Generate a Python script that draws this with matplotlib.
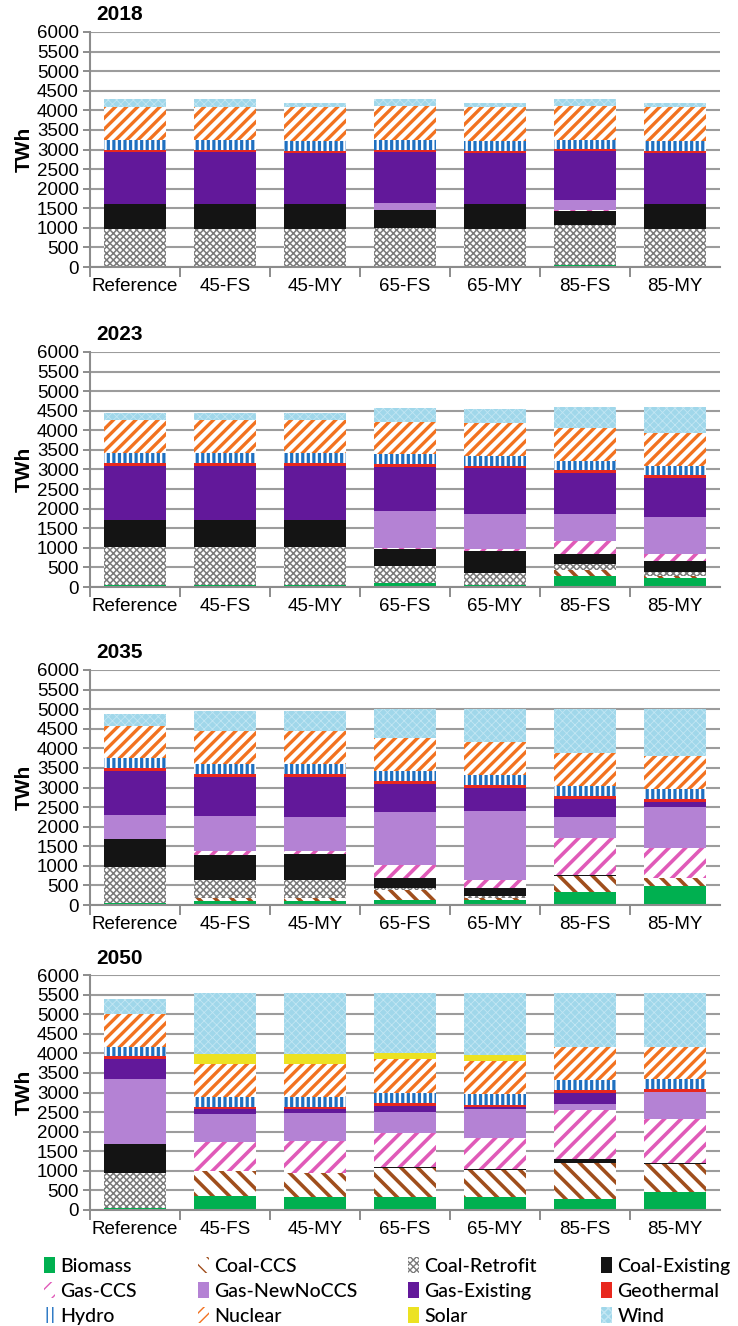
import numpy as np
import matplotlib.pyplot as plt
from matplotlib.patches import Patch

# Escenarios y tecnologias
scenarios = ['Reference', '45-FS', '45-MY', '65-FS', '65-MY', '85-FS', '85-MY']
techs = ['Biomass', 'Coal-CCS', 'Coal-Retrofit', 'Coal-Existing',
         'Gas-CCS', 'Gas-NewNoCCS', 'Gas-Existing', 'Geothermal',
         'Hydro', 'Nuclear', 'Solar', 'Wind']
years = ['2018', '2023', '2035', '2050']

# TWh por tecnologia (filas en el orden de techs), columnas = escenarios
gen_2018 = [
    [0, 0, 0, 0, 0, 45, 0],
    [0, 0, 0, 0, 0, 0, 0],
    [960, 960, 960, 1008, 960, 1025, 960],
    [660, 660, 660, 450, 660, 360, 660],
    [0, 0, 0, 0, 0, 30, 0],
    [0, 0, 0, 170, 0, 260, 0],
    [1310, 1310, 1300, 1320, 1300, 1250, 1300],
    [60, 60, 40, 50, 40, 45, 40],
    [255, 255, 255, 255, 255, 240, 255],
    [845, 845, 865, 845, 865, 845, 865],
    [0, 0, 0, 0, 0, 0, 0],
    [200, 200, 110, 195, 110, 195, 110],
]
gen_2023 = [
    [60, 60, 60, 90, 60, 288, 240],
    [0, 0, 0, 0, 0, 145, 50],
    [960, 960, 960, 450, 310, 152, 85],
    [680, 680, 680, 420, 550, 255, 290],
    [0, 0, 0, 40, 40, 330, 180],
    [0, 0, 0, 940, 910, 705, 950],
    [1400, 1400, 1400, 1130, 1170, 1044, 976],
    [55, 55, 55, 75, 55, 59, 84],
    [255, 255, 255, 240, 250, 237, 238],
    [850, 850, 850, 830, 850, 849, 850],
    [0, 0, 0, 0, 0, 0, 0],
    [195, 195, 195, 350, 340, 525, 650],
]
gen_2035 = [
    [60, 90, 90, 135, 115, 320, 475],
    [0, 90, 90, 260, 60, 410, 215],
    [920, 465, 465, 40, 60, 0, 0],
    [700, 640, 655, 255, 200, 40, 0],
    [0, 85, 85, 320, 195, 935, 765],
    [620, 910, 860, 1375, 1780, 550, 1045],
    [1130, 1000, 1035, 705, 585, 460, 130],
    [75, 70, 70, 75, 60, 70, 75],
    [240, 255, 255, 255, 255, 265, 265],
    [830, 840, 825, 835, 840, 840, 840],
    [0, 0, 0, 0, 0, 0, 0],
    [300, 510, 525, 750, 860, 1115, 1200],
]
gen_2050 = [
    [60, 355, 340, 325, 340, 280, 450],
    [0, 640, 600, 750, 690, 910, 735],
    [875, 0, 0, 0, 0, 0, 0],
    [740, 0, 0, 15, 10, 100, 10],
    [0, 750, 810, 865, 790, 1275, 1130],
    [1665, 700, 720, 535, 740, 135, 680],
    [510, 125, 100, 170, 50, 290, 0],
    [75, 50, 50, 60, 60, 70, 75],
    [240, 270, 270, 280, 270, 255, 255],
    [850, 835, 850, 850, 850, 850, 835],
    [0, 255, 240, 170, 155, 0, 0],
    [385, 1565, 1565, 1525, 1590, 1380, 1375],
]
all_gen = [gen_2018, gen_2023, gen_2035, gen_2050]

# Estilo de cada tecnologia: relleno, color de trama, trama, grosor de trama
styles = {
    'Biomass':       ('#00b050', '#00b050', None, 1.0),
    'Coal-CCS':      ('white', '#a04e1c', '\\\\', 2.6),
    'Coal-Retrofit': ('white', '#7a7a7a', 'xxxxx', 1.1),
    'Coal-Existing': ('#141414', '#141414', None, 1.0),
    'Gas-CCS':       ('white', '#e05ab8', '//', 2.6),
    'Gas-NewNoCCS':  ('#b482d4', '#b482d4', None, 1.0),
    'Gas-Existing':  ('#62189a', '#62189a', None, 1.0),
    'Geothermal':    ('#e8281e', '#e8281e', None, 1.0),
    'Hydro':         ('white', '#1f70c0', '|||', 2.3),
    'Nuclear':       ('white', '#f27220', '///', 2.4),
    'Solar':         ('#ece222', '#ece222', None, 1.0),
    'Wind':          ('#a0d7ea', '#c2e6f3', 'xxxx', 0.6),
}

plt.rcParams['font.family'] = 'sans-serif'
plt.rcParams['font.sans-serif'] = ['Liberation Sans']
plt.rcParams['hatch.linewidth'] = 1.0

fig = plt.figure(figsize=(7.38, 13.26), dpi=100)
H = 1326.0
tops = [32, 352, 670, 975]
x = np.arange(len(scenarios))

for yr, gen, top in zip(years, all_gen, tops):
    bottom_px = top + 235
    ax = fig.add_axes([90 / 738, 1 - bottom_px / H, 630 / 738, 235 / H])
    base = np.zeros(len(scenarios))
    for tech, vals in zip(techs, gen):
        vals = np.array(vals, dtype=float)
        fc, hc, hatch, hlw = styles[tech]
        with plt.rc_context({'hatch.linewidth': hlw}):
            ax.bar(x, vals, 0.68, bottom=base, color=fc, edgecolor=hc,
                   linewidth=0, hatch=hatch, zorder=2)
        base += vals

    ax.set_xlim(-0.5, 6.5)
    ax.set_ylim(0, 6000)
    ax.set_yticks(range(0, 6001, 500))
    ax.set_xticks(x)
    ax.set_xticklabels(scenarios)
    ax.set_xticks(np.arange(-0.5, 6.0, 1.0), minor=True)
    ax.tick_params(axis='x', which='major', length=0, pad=8, labelsize=13.5)
    ax.tick_params(axis='x', which='minor', length=7, color='#8c8c8c', width=1.4)
    ax.tick_params(axis='y', length=5, color='#8c8c8c', width=1.4, pad=3, labelsize=13.5)
    ax.grid(axis='y', color='#9c9c9c', linewidth=1.5, zorder=0)
    ax.set_axisbelow(True)
    for s in ['top', 'right']:
        ax.spines[s].set_visible(False)
    for s in ['left', 'bottom']:
        ax.spines[s].set_color('#8c8c8c')
        ax.spines[s].set_linewidth(1.5)
    ax.set_ylabel('TWh', fontsize=15, fontweight='bold', labelpad=2)
    fig.text(96 / 738, 1 - (top - 17) / H, yr, fontsize=15, fontweight='bold',
             ha='left', va='center')

# Leyenda: una columna por cada grupo, 3 filas
handles = {}
for tech in techs:
    fc, hc, hatch, hlw = styles[tech]
    handles[tech] = Patch(facecolor=fc, edgecolor=hc, linewidth=0, hatch=hatch)
col_x = [44, 198, 408, 601]
for c, cx in enumerate(col_x):
    names = [techs[r * 4 + c] for r in range(3)]
    fig.legend([handles[t] for t in names], names, loc='center left',
               bbox_to_anchor=(cx / 738, 1 - 1291 / H), frameon=False,
               prop={'family': 'Lato', 'size': 14, 'weight': 'medium'},
               handlelength=0.55, handleheight=0.85, handletextpad=0.3,
               labelspacing=0.38, borderaxespad=0, borderpad=0)

plt.savefig('out.png', dpi=100)
